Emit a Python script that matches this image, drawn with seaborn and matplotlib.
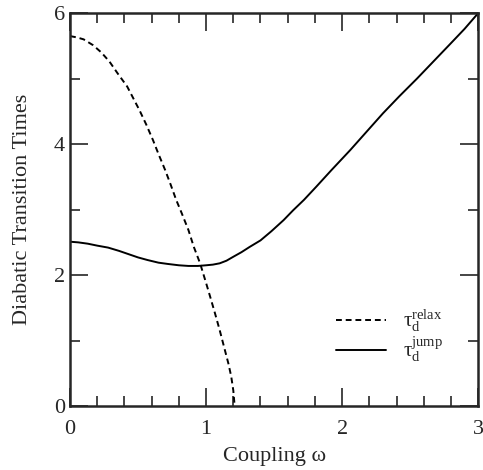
import numpy as np
import pandas as pd
import seaborn as sns
import matplotlib
matplotlib.use('Agg')
import matplotlib.pyplot as plt
from matplotlib.ticker import MultipleLocator

# values
relax_w = [0.0, 0.05, 0.10, 0.17, 0.23, 0.29, 0.35, 0.42, 0.46, 0.51, 0.56,
           0.61, 0.65, 0.70, 0.74, 0.78, 0.82, 0.87, 0.91, 0.956, 1.00,
           1.03, 1.065, 1.10, 1.13, 1.164, 1.185, 1.20, 1.208, 1.213]
relax_t = [5.65, 5.63, 5.60, 5.51, 5.40, 5.26, 5.08, 4.88, 4.72, 4.52, 4.30,
           4.06, 3.85, 3.60, 3.38, 3.15, 2.95, 2.69, 2.43, 2.18, 1.88,
           1.67, 1.42, 1.16, 0.92, 0.65, 0.45, 0.24, 0.05, 0.0]

jump_w = [0.0, 0.06, 0.13, 0.20, 0.28, 0.36, 0.43, 0.50, 0.57, 0.65, 0.72,
          0.80, 0.87, 0.94, 1.00, 1.05, 1.10, 1.15, 1.20, 1.26, 1.32, 1.40,
          1.48, 1.57, 1.64, 1.72, 1.81, 1.92, 2.06, 2.18, 2.30, 2.42, 2.55,
          2.67, 2.79, 2.90, 3.0]
jump_t = [2.51, 2.50, 2.48, 2.45, 2.42, 2.37, 2.32, 2.27, 2.23, 2.19, 2.17,
          2.15, 2.14, 2.14, 2.15, 2.16, 2.18, 2.22, 2.28, 2.35, 2.43, 2.53,
          2.67, 2.84, 2.99, 3.15, 3.35, 3.60, 3.91, 4.19, 4.47, 4.73, 5.00,
          5.26, 5.52, 5.76, 6.0]

sns.set_style('ticks')
plt.rcParams['font.family'] = ['Liberation Serif', 'DejaVu Serif']
plt.rcParams['mathtext.fontset'] = 'custom'
plt.rcParams['mathtext.rm'] = 'Liberation Serif'
plt.rcParams['mathtext.it'] = 'Liberation Serif:italic'

fig = plt.figure(figsize=(4.83, 4.70), dpi=100)
ax = fig.add_axes([0.145, 0.136, 0.845, 0.836])

sns.lineplot(x=relax_w, y=relax_t, ax=ax, color='black', linestyle=(0, (3, 2)),
             linewidth=1.4, label=r'τ$_{\rm d}^{\rm relax}$', sort=False)
sns.lineplot(x=jump_w, y=jump_t, ax=ax, color='black', linewidth=1.4,
             label=r'τ$_{\rm d}^{\rm jump}$', sort=False)

ax.set_xlim(0, 3)
ax.set_ylim(0, 6)
ax.xaxis.set_major_locator(MultipleLocator(1))
ax.xaxis.set_minor_locator(MultipleLocator(0.2))
ax.yaxis.set_major_locator(MultipleLocator(2))
ax.yaxis.set_minor_locator(MultipleLocator(1))
ax.tick_params(which='both', direction='in', top=True, right=True, labelsize=16, width=1.2)
ax.tick_params(which='major', length=13)
ax.tick_params(which='minor', length=7)
ax.tick_params(axis='x', pad=10)
for s in ax.spines.values():
    s.set_linewidth(1.8)

ax.set_xlabel('Coupling ω', fontsize=16, labelpad=6)
ax.set_ylabel('Diabatic Transition Times', fontsize=16, labelpad=16)

ax.legend(loc='upper left', bbox_to_anchor=(0.652, 0.25), frameon=False,
          fontsize=15, handlelength=2.4, labelspacing=0.0,
          borderpad=0, borderaxespad=0, handletextpad=0.8)

fig.savefig('out.png', dpi=100)
